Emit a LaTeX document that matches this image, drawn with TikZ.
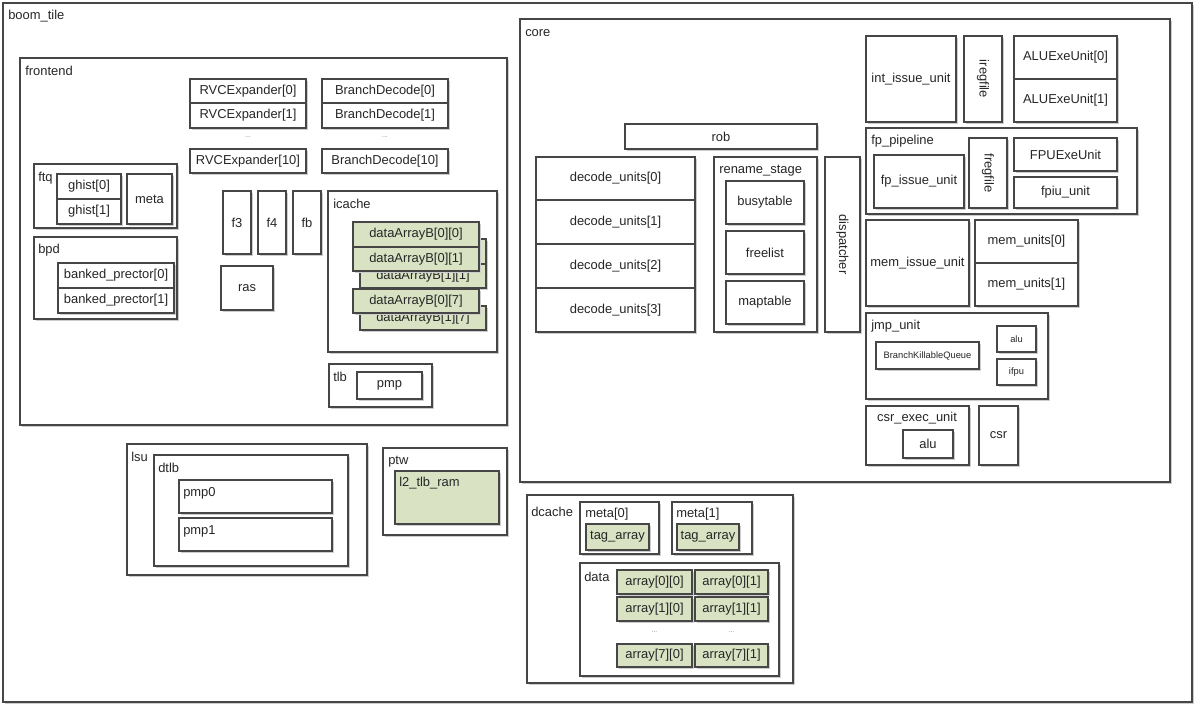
\documentclass[tikz,border=0pt]{standalone}
\usepackage{fontspec}
\setmainfont{Liberation Sans}
\usepackage{tikz}

\definecolor{linec}{RGB}{70,70,70}
\definecolor{shadowc}{RGB}{205,205,205}
\definecolor{cellgreen}{RGB}{217,227,195}

\tikzset{
  blk/.style={draw=linec, line width=0.8pt, fill=white,
    preaction={fill=shadowc, transform canvas={xshift=1.5pt, yshift=-1.5pt}}},
  gblk/.style={blk, fill=cellgreen},
  sep/.style={draw=linec, line width=0.8pt},
  txt/.style={inner sep=0pt, text=black!85, font=\fontsize{9.7}{11}\selectfont},
  lbl/.style={txt, anchor=west},
  sml/.style={inner sep=0pt, text=black!85, font=\fontsize{7}{8}\selectfont},
  dots/.style={inner sep=0pt, text=gray, font=\fontsize{5}{6}\selectfont}
}

\begin{document}
\begin{tikzpicture}[x=0.75pt,y=0.75pt,yscale=-1,xscale=1]
\useasboundingbox (0,0) rectangle (1200,710);

%Shape: Rectangle boom_tile
\draw [blk] (3,3) rectangle (1192,702) ;
% Text Node
\draw (8,16) node [lbl] (tileLbl) {boom\_tile};

%Shape: Rectangle frontend
\draw [blk] (20,58) rectangle (507,425) ;
\draw (25,71) node [lbl] (frontLbl) {frontend};

%Shape: Rectangle RVCExpander
\draw [blk] (190,79) rectangle (306,128) ;
\draw [sep] (190,103) -- (306,103) ;
\draw [blk] (190,149) rectangle (306,173) ;
\draw (248,91) node [txt] (rvc0) {RVCExpander[0]};
\draw (248,115.5) node [txt] (rvc1) {RVCExpander[1]};
\draw (248,137) node [dots] (rvcDots) {...};
\draw (248,161) node [txt] (rvc10) {RVCExpander[10]};

%Shape: Rectangle BranchDecode
\draw [blk] (322,79) rectangle (448,128) ;
\draw [sep] (322,103) -- (448,103) ;
\draw [blk] (322,149) rectangle (448,173) ;
\draw (385,91) node [txt] (bd0) {BranchDecode[0]};
\draw (385,115.5) node [txt] (bd1) {BranchDecode[1]};
\draw (385,137) node [dots] (bdDots) {...};
\draw (385,161) node [txt] (bd10) {BranchDecode[10]};

%Shape: Rectangle ftq
\draw [blk] (34,164) rectangle (177,228) ;
\draw (38,178) node [lbl] (ftqLbl) {ftq};
\draw [blk] (57,174) rectangle (121,224) ;
\draw [sep] (57,199) -- (121,199) ;
\draw [blk] (127,174) rectangle (172,224) ;
\draw (89,186.5) node [txt] (ghist0) {ghist[0]};
\draw (89,211.5) node [txt] (ghist1) {ghist[1]};
\draw (149.5,199) node [txt] (ftqMeta) {meta};

%Shape: Rectangle bpd
\draw [blk] (34,237) rectangle (177,319) ;
\draw (38,250) node [lbl] (bpdLbl) {bpd};
\draw [blk] (58,263) rectangle (174,313) ;
\draw [sep] (58,288) -- (174,288) ;
\draw (116,275.5) node [txt] (bp0) {banked\_prector[0]};
\draw (116,300.5) node [txt] (bp1) {banked\_prector[1]};

%Shape: Rectangle f3 f4 fb ras
\draw [blk] (223,191) rectangle (251,254) ;
\draw [blk] (258,191) rectangle (286,254) ;
\draw [blk] (293,191) rectangle (321,254) ;
\draw [blk] (221,266) rectangle (273,310) ;
\draw (237,222.5) node [txt] (f3) {f3};
\draw (272,222.5) node [txt] (f4) {f4};
\draw (307,222.5) node [txt] (fb) {fb};
\draw (247,288) node [txt] (ras) {ras};

%Shape: Rectangle icache
\draw [blk] (328,191) rectangle (497,352) ;
\draw (333,204) node [lbl] (icacheLbl) {icache};
\draw [gblk] (360,239) rectangle (486,288) ;
\draw [sep] (360,264) -- (486,264) ;
\draw (423,276) node [txt] (dab11) {dataArrayB[1][1]};
\draw [gblk] (353,222) rectangle (479,271) ;
\draw [sep] (353,247) -- (479,247) ;
\draw (416,234.5) node [txt] (dab00) {dataArrayB[0][0]};
\draw (416,259) node [txt] (dab01) {dataArrayB[0][1]};
\draw [gblk] (360,306) rectangle (486,330) ;
\draw (423,318) node [txt] (dab17) {dataArrayB[1][7]};
\draw [gblk] (353,289) rectangle (479,313) ;
\draw (416,301) node [txt] (dab07) {dataArrayB[0][7]};

%Shape: Rectangle tlb
\draw [blk] (329,364) rectangle (432,407) ;
\draw (333,377) node [lbl] (tlbLbl) {tlb};
\draw [blk] (357,372) rectangle (422,399) ;
\draw (389.5,385.5) node [txt] (tlbPmp) {pmp};

%Shape: Rectangle core
\draw [blk] (520,19) rectangle (1170,482) ;
\draw (525,33) node [lbl] (coreLbl) {core};
\draw [blk] (625,124) rectangle (817,149) ;
\draw (721,136.5) node [txt] (rob) {rob};

%Shape: Rectangle decode_units
\draw [blk] (536,157) rectangle (695,332) ;
\draw [sep] (536,200) -- (695,200) ;
\draw [sep] (536,244) -- (695,244) ;
\draw [sep] (536,288) -- (695,288) ;
\draw (615.5,178.5) node [txt] (dec0) {decode\_units[0]};
\draw (615.5,222) node [txt] (dec1) {decode\_units[1]};
\draw (615.5,266) node [txt] (dec2) {decode\_units[2]};
\draw (615.5,310) node [txt] (dec3) {decode\_units[3]};

%Shape: Rectangle rename_stage
\draw [blk] (714,157) rectangle (817,332) ;
\draw (719,171) node [lbl] (renameLbl) {rename\_stage};
\draw [blk] (726,181) rectangle (804,224) ;
\draw [blk] (726,231) rectangle (804,274) ;
\draw [blk] (726,281) rectangle (804,324) ;
\draw (765,202.5) node [txt] (busytable) {busytable};
\draw (765,252.5) node [txt] (freelist) {freelist};
\draw (765,302.5) node [txt] (maptable) {maptable};

%Shape: Rectangle dispatcher
\draw [blk] (825,157) rectangle (860,332) ;
\draw (842.5,244.5) node [txt, rotate=-90] (dispatcher) {dispatcher};

%Shape: Rectangle int pipeline
\draw [blk] (866,36) rectangle (956,122) ;
\draw (911,79) node [txt] (intIssue) {int\_issue\_unit};
\draw [blk] (964,36) rectangle (1002,122) ;
\draw (983,79) node [txt, rotate=-90] (iregfile) {iregfile};
\draw [blk] (1014,36) rectangle (1117,122) ;
\draw [sep] (1014,79) -- (1117,79) ;
\draw (1065.5,57.5) node [txt] (alu0) {ALUExeUnit[0]};
\draw (1065.5,100.5) node [txt] (alu1) {ALUExeUnit[1]};

%Shape: Rectangle fp_pipeline
\draw [blk] (866,128) rectangle (1137,214) ;
\draw (871,141) node [lbl] (fpLbl) {fp\_pipeline};
\draw [blk] (874,155) rectangle (964,208) ;
\draw (919,181.5) node [txt] (fpIssue) {fp\_issue\_unit};
\draw [blk] (969,138) rectangle (1007,208) ;
\draw (988,173) node [txt, rotate=-90] (fregfile) {fregfile};
\draw [blk] (1014,138) rectangle (1117,171) ;
\draw [blk] (1014,177) rectangle (1117,208) ;
\draw (1065.5,154.5) node [txt] (fpuExe) {FPUExeUnit};
\draw (1065.5,192.5) node [txt] (fpiu) {fpiu\_unit};

%Shape: Rectangle mem
\draw [blk] (866,220) rectangle (969,306) ;
\draw (917.5,263) node [txt] (memIssue) {mem\_issue\_unit};
\draw [blk] (975,220) rectangle (1078,306) ;
\draw [sep] (975,263) -- (1078,263) ;
\draw (1026.5,241.5) node [txt] (mem0) {mem\_units[0]};
\draw (1026.5,284.5) node [txt] (mem1) {mem\_units[1]};

%Shape: Rectangle jmp_unit
\draw [blk] (866,313) rectangle (1048,399) ;
\draw (871,326) node [lbl] (jmpLbl) {jmp\_unit};
\draw [blk] (876,342) rectangle (979,369) ;
\draw (927.5,355.5) node [sml] (bkq) {BranchKillableQueue};
\draw [blk] (997,326) rectangle (1036,352) ;
\draw [blk] (997,359) rectangle (1036,385) ;
\draw (1016.5,339) node [sml] (jmpAlu) {alu};
\draw (1016.5,372) node [sml] (ifpu) {ifpu};

%Shape: Rectangle csr
\draw [blk] (866,406) rectangle (969,465) ;
\draw (917,418) node [txt] (csrExecLbl) {csr\_exec\_unit};
\draw [blk] (903,430) rectangle (953,458) ;
\draw (928,444) node [txt] (csrAlu) {alu};
\draw [blk] (979,406) rectangle (1018,465) ;
\draw (998.5,435.5) node [txt] (csr) {csr};

%Shape: Rectangle lsu
\draw [blk] (127,444) rectangle (367,575) ;
\draw (131,457) node [lbl] (lsuLbl) {lsu};
\draw [blk] (154,455) rectangle (348,566) ;
\draw (158,468) node [lbl] (dtlbLbl) {dtlb};
\draw [blk] (179,480) rectangle (332,513) ;
\draw (183,493) node [lbl] (pmp0) {pmp0};
\draw [blk] (179,518) rectangle (332,551) ;
\draw (183,531) node [lbl] (pmp1) {pmp1};

%Shape: Rectangle ptw
\draw [blk] (383,448) rectangle (507,535) ;
\draw (388,462) node [lbl] (ptwLbl) {ptw};
\draw [gblk] (395,471) rectangle (499,524) ;
\draw (399,483) node [lbl] (l2tlb) {l2\_tlb\_ram};

%Shape: Rectangle dcache
\draw [blk] (527,495) rectangle (793,683) ;
\draw (531,512) node [lbl] (dcacheLbl) {dcache};
\draw [blk] (580,502) rectangle (659,554) ;
\draw (585,514) node [lbl] (meta0Lbl) {meta[0]};
\draw [gblk] (586,524) rectangle (649,550) ;
\draw (617.5,537) node [txt] (tag0) {tag\_array};
\draw [blk] (672,502) rectangle (752,554) ;
\draw (676,514) node [lbl] (meta1Lbl) {meta[1]};
\draw [gblk] (677,524) rectangle (739,550) ;
\draw (708,537) node [txt] (tag1) {tag\_array};

%Shape: Rectangle data
\draw [blk] (580,563) rectangle (779,676) ;
\draw (584,577) node [lbl] (dataLbl) {data};
\draw [gblk] (617,570) rectangle (692,594) ;
\draw [gblk] (695,570) rectangle (768,594) ;
\draw [gblk] (617,597) rectangle (692,621) ;
\draw [gblk] (695,597) rectangle (768,621) ;
\draw [gblk] (617,644) rectangle (692,667) ;
\draw [gblk] (695,644) rectangle (768,667) ;
\draw (654.5,582) node [txt] (arr00) {array[0][0]};
\draw (731.5,582) node [txt] (arr01) {array[0][1]};
\draw (654.5,609) node [txt] (arr10) {array[1][0]};
\draw (731.5,609) node [txt] (arr11) {array[1][1]};
\draw (654.5,632) node [dots] (arrDots0) {...};
\draw (731.5,632) node [dots] (arrDots1) {...};
\draw (654.5,655.5) node [txt] (arr70) {array[7][0]};
\draw (731.5,655.5) node [txt] (arr71) {array[7][1]};

\end{tikzpicture}
\end{document}
